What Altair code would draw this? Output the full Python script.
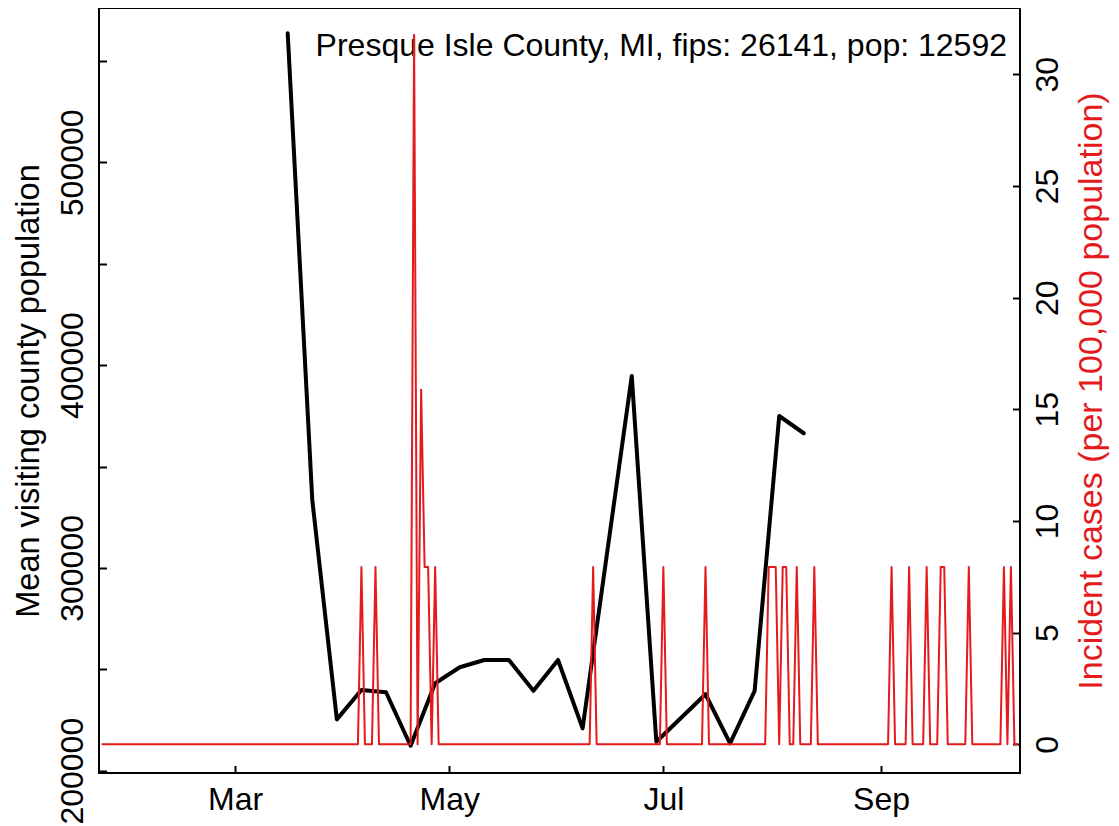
import altair as alt
import pandas as pd

FONT = "Liberation Sans"
FS = 32
FS_TEXT = 32
FS_LTITLE = 32.5
FS_RTITLE = 34
RED = "#E41A1C"

# Mean visiting county population (weekly)
visit_dates = ["2020-03-16", "2020-03-23", "2020-03-30", "2020-04-06", "2020-04-13",
               "2020-04-20", "2020-04-27", "2020-05-04", "2020-05-11", "2020-05-18",
               "2020-05-25", "2020-06-01", "2020-06-08", "2020-06-22", "2020-06-29",
               "2020-07-13", "2020-07-20", "2020-07-27", "2020-08-03", "2020-08-10"]
visit_values = [563600, 333500, 225300, 239800, 238700,
                212300, 243100, 251000, 254600, 254600,
                239400, 254600, 220900, 394600, 214300,
                237700, 213500, 239400, 374900, 366400]

# Incident cases per 100,000 (daily); days not listed are 0
case_first_day = "2020-01-23"
case_last_day = "2020-10-10"
case_nonzero_dates = ["2020-04-06", "2020-04-10", "2020-04-21", "2020-04-23", "2020-04-24",
                      "2020-04-25", "2020-04-27", "2020-06-11", "2020-07-01", "2020-07-13",
                      "2020-07-31", "2020-08-01", "2020-08-02", "2020-08-04", "2020-08-05",
                      "2020-08-08", "2020-08-13", "2020-09-04", "2020-09-09", "2020-09-14",
                      "2020-09-18", "2020-09-19", "2020-09-26", "2020-10-06", "2020-10-08"]
case_nonzero_values = [7.94, 7.94, 31.77, 15.88, 7.94,
                       7.94, 7.94, 7.94, 7.94, 7.94,
                       7.94, 7.94, 7.94, 7.94, 7.94,
                       7.94, 7.94, 7.94, 7.94, 7.94,
                       7.94, 7.94, 7.94, 7.94, 7.94]

left_ticks = [200000, 250000, 300000, 350000, 400000, 450000, 500000, 550000]
left_labels = [200000, 300000, 400000, 500000]
right_ticks = [0, 5, 10, 15, 20, 25, 30]
annotation = "Presque Isle County, MI, fips: 26141, pop: 12592"

visit_df = pd.DataFrame({"date": [d + "T00:00:00" for d in visit_dates], "value": visit_values})
days = pd.date_range(case_first_day, case_last_day, freq="D")
lookup = dict(zip(case_nonzero_dates, case_nonzero_values))
case_df = pd.DataFrame({
    "date": [d.strftime("%Y-%m-%dT00:00:00") for d in days],
    "cases": [lookup.get(d.strftime("%Y-%m-%d"), 0.0) for d in days],
})

x_dom = [alt.DateTime(year=2020, month=1, date=22, hours=6),
         alt.DateTime(year=2020, month=10, date=10, hours=14)]
xscale = alt.Scale(domain=x_dom)
month_ticks = [alt.DateTime(year=2020, month=m, date=1) for m in (3, 5, 7, 9)]
left_scale = alt.Scale(domain=[198866, 576085], nice=False, zero=False)
right_scale = alt.Scale(domain=[-1.285, 32.97], nice=False, zero=False)

TS = 7.5

black = alt.Chart(visit_df).mark_line(
    color="black", strokeWidth=4, strokeCap="round", strokeJoin="round"
).encode(
    x=alt.X("date:T", scale=xscale, axis=alt.Axis(
        values=month_ticks, format="%b", ticks=False, domain=False, grid=False,
        labelFont=FONT, labelFontSize=FS, labelColor="black", labelPadding=11,
        labelFlush=False, title=None, orient="bottom")),
    y=alt.Y("value:Q", scale=left_scale, axis=alt.Axis(
        values=left_labels, format="d", ticks=False, domain=False, grid=False,
        labelAngle=270, labelFont=FONT, labelFontSize=FS, labelColor="black",
        labelPadding=10, labelFlush=False, labelOverlap=False,
        title="Mean visiting county population", titleFont=FONT, titleFontSize=FS_LTITLE,
        titleFontWeight="normal", titleColor="black", titlePadding=11, orient="left")),
)

black_ticks = alt.Chart(visit_df).mark_line(opacity=0).encode(
    x=alt.X("date:T", scale=xscale, axis=alt.Axis(
        values=month_ticks, labels=False, domain=False, grid=False, ticks=True,
        tickSize=TS, tickWidth=2, tickColor="black", offset=-TS, title=None,
        orient="bottom")),
    y=alt.Y("value:Q", scale=left_scale, axis=alt.Axis(
        values=left_ticks, labels=False, domain=False, grid=False, ticks=True,
        tickSize=TS, tickWidth=2, tickColor="black", offset=-TS, title=None,
        orient="left")),
)

red = alt.Chart(case_df).mark_line(
    color=RED, strokeWidth=2, strokeJoin="round"
).encode(
    x=alt.X("date:T", scale=xscale, axis=None),
    y=alt.Y("cases:Q", scale=right_scale, axis=alt.Axis(
        values=right_ticks, ticks=False, domain=False, grid=False,
        labelAngle=270, labelFont=FONT, labelFontSize=FS, labelColor="black",
        labelPadding=12, labelFlush=False, labelOverlap=False,
        title="Incident cases (per 100,000 population)", titleFont=FONT,
        titleFontSize=FS_RTITLE, titleFontWeight="normal", titleColor=RED, titleAngle=270,
        titlePadding=45, orient="right")),
)

red_ticks = alt.Chart(case_df).mark_line(opacity=0).encode(
    x=alt.X("date:T", scale=xscale, axis=None),
    y=alt.Y("cases:Q", scale=right_scale, axis=alt.Axis(
        values=right_ticks, labels=False, domain=False, grid=False, ticks=True,
        tickSize=TS, tickWidth=2, tickColor="black", offset=-TS, title=None,
        orient="right")),
)

ann = alt.Chart(pd.DataFrame({"label": [annotation]})).mark_text(
    align="right", baseline="alphabetic", font=FONT, fontSize=FS_TEXT, color="black"
).encode(text="label:N", x=alt.value(908), y=alt.value(48))

chart = alt.layer(black, black_ticks, ann, red, red_ticks).resolve_scale(
    y="independent"
).resolve_axis(
    y="independent", x="independent"
).properties(
    width=921, height=765,
    autosize=alt.AutoSizeParams(type="none"),
    padding={"left": 91, "top": 0, "right": 91, "bottom": 53},
    background="white",
).configure_view(
    stroke="black", strokeWidth=2
)

chart.save("out.html", embed_options={"renderer": "svg", "actions": False})
